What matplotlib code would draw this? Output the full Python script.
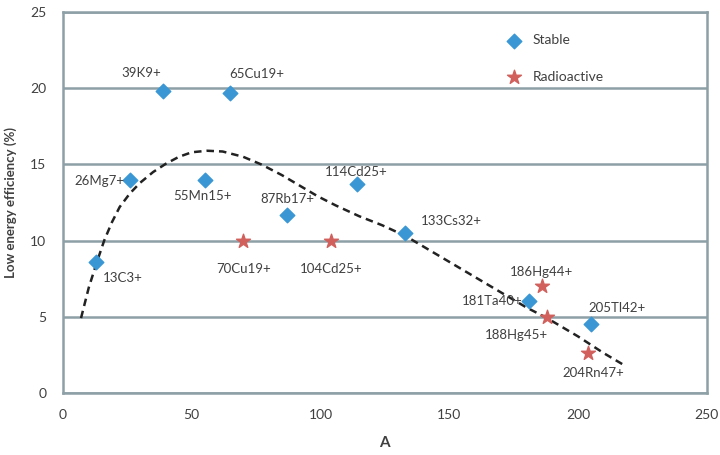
import matplotlib
matplotlib.use("Agg")
import matplotlib.pyplot as plt

plt.rcParams['font.family'] = ['Lato', 'DejaVu Sans']

# Stable isotopes (mass number A, efficiency %)
stable_labels = ["13C3+", "26Mg7+", "39K9+", "55Mn15+", "65Cu19+", "87Rb17+",
                 "114Cd25+", "133Cs32+", "181Ta40+", "205Tl42+"]
stable_a = [13, 26, 39, 55, 65, 87, 114, 133, 181, 205]
stable_eff = [8.6, 14.0, 19.8, 14.0, 19.7, 11.7, 13.7, 10.5, 6.0, 4.5]

# Radioactive isotopes
radio_labels = ["70Cu19+", "104Cd25+", "186Hg44+", "188Hg45+", "204Rn47+"]
radio_a = [70, 104, 186, 188, 204]
radio_eff = [10.0, 10.0, 7.0, 5.0, 2.6]

# Dashed trend curve
trend_a = [7, 10, 13, 16, 19, 22, 26, 30, 35, 40, 45, 50, 56, 62, 70, 77, 85,
           92, 99, 106, 115, 124, 133, 145, 160, 171, 180, 188, 200, 210, 218]
trend_eff = [4.9, 6.9, 8.5, 10.0, 11.2, 12.2, 13.1, 13.8, 14.5, 15.05, 15.5,
             15.8, 15.9, 15.85, 15.5, 15.0, 14.3, 13.6, 12.9, 12.3, 11.6, 11.0,
             10.3, 9.1, 7.6, 6.5, 5.6, 4.9, 3.7, 2.6, 1.8]

# label offsets in pixels (dx, dy, ha)
stable_off = [(6, -16, 'left'), (-6, -1, 'right'), (-22, 18, 'center'),
              (-2, -16, 'center'), (26, 19, 'center'), (0, 16, 'center'),
              (0, 12, 'center'), (46, 12, 'center'), (-6, 0, 'right'),
              (26, 16, 'center')]
radio_off = [(0, -28, 'center'), (0, -28, 'center'), (0, 14, 'center'),
             (-31, -18, 'center'), (5, -20, 'center')]

grid_col = '#8da0a6'
text_col = '#404040'

fig = plt.figure(figsize=(7.2, 4.55), dpi=100)
ax = fig.add_axes([0.0875, 0.137, 0.894, 0.836])

ax.plot(trend_a, trend_eff, ls=(0, (3, 2)), color='#222222', lw=1.8, zorder=2)
ax.scatter(stable_a, stable_eff, marker='D', s=55, color='#3a97d4',
           label='Stable', zorder=3)
ax.scatter(radio_a, radio_eff, marker='*', s=110, color='#d1605c',
           label='Radioactive', zorder=3)

for lab, x, y, (dx, dy, ha) in zip(stable_labels, stable_a, stable_eff, stable_off):
    ax.annotate(lab, (x, y), xytext=(dx, dy), textcoords='offset pixels',
                ha=ha, va='center', fontsize=9.5, color=text_col)
for lab, x, y, (dx, dy, ha) in zip(radio_labels, radio_a, radio_eff, radio_off):
    ax.annotate(lab, (x, y), xytext=(dx, dy), textcoords='offset pixels',
                ha=ha, va='center', fontsize=9.5, color=text_col)

ax.set_xlim(0, 250)
ax.set_ylim(0, 25)
ax.set_xticks(range(0, 251, 50))
ax.set_yticks(range(0, 26, 5))
ax.grid(axis='y', color=grid_col, lw=1.8)
ax.set_axisbelow(True)
for s in ax.spines.values():
    s.set_color(grid_col)
    s.set_linewidth(1.8)
ax.tick_params(length=0, labelsize=10, labelcolor=text_col, pad=12)

ax.set_ylabel('Low energy efficiency (%)', fontsize=9.5, fontweight='bold',
              color=text_col)
ax.yaxis.set_label_coords(-0.072, 0.5)
ax.set_xlabel('A', fontsize=11, fontweight='bold', color=text_col)
ax.xaxis.set_label_coords(0.5, -0.115)

ax.legend(loc='upper left', bbox_to_anchor=(0.66, 0.975), frameon=False,
          fontsize=10, labelspacing=1.75, handletextpad=0.3, labelcolor=text_col)

fig.savefig('out.png', dpi=100)
